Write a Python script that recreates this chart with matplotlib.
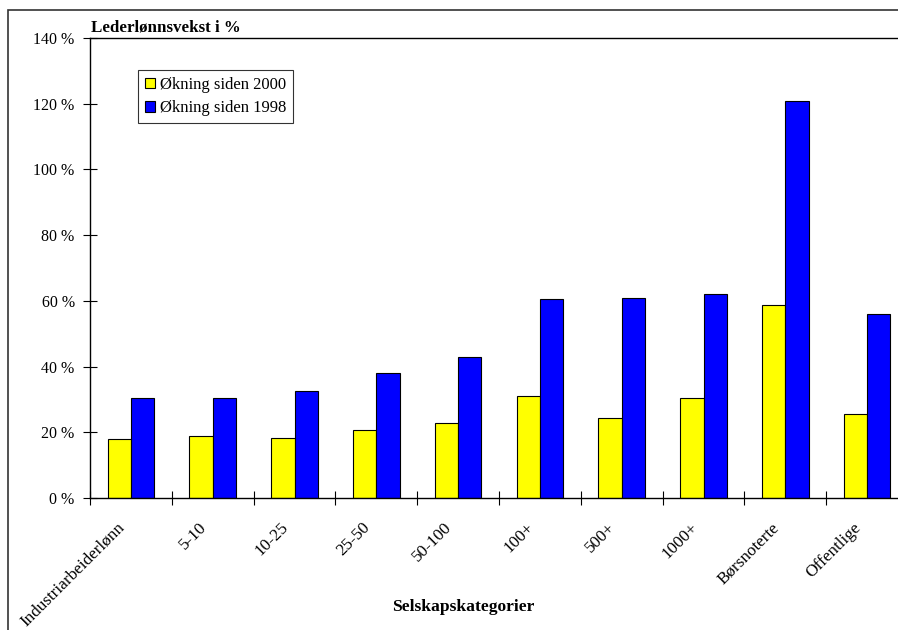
import matplotlib
matplotlib.use('Agg')
import matplotlib.pyplot as plt
import matplotlib.transforms as mtransforms
from matplotlib.patches import Rectangle
import numpy as np

plt.rcParams['font.family'] = ['Liberation Serif', 'DejaVu Serif']

# --- data ---
kategorier = ['Industriarbeiderlønn', '5-10', '10-25', '25-50', '50-100',
              '100+', '500+', '1000+', 'Børsnoterte', 'Offentlige']
okning_2000 = [17.9, 18.8, 18.4, 20.8, 22.8, 30.9, 24.4, 30.4, 58.8, 25.7]
okning_1998 = [30.4, 30.4, 32.6, 38.1, 43.0, 60.5, 60.8, 62.1, 120.9, 56.1]
y_ticks = [0, 20, 40, 60, 80, 100, 120, 140]

W, H = 898, 630
fig = plt.figure(figsize=(W / 100, H / 100), dpi=100)

# outer chart frame (runs off the right/bottom edge)
fig.patches.append(Rectangle((8 / W, -0.05), 1.0, 1 - 10 / H + 0.05,
                             transform=fig.transFigure, fill=False,
                             edgecolor='#333333', linewidth=1.2))

# plot area in pixels: left 90, right 908, top 38, bottom 498
ax = fig.add_axes([90 / W, 1 - 498 / H, 818 / W, 460 / H])

x = np.arange(len(kategorier)) + 0.5
bw = 0.285
ax.bar(x - bw / 2, okning_2000, bw, color='#FFFF00', edgecolor='black',
       linewidth=0.8, label='Økning siden 2000')
ax.bar(x + bw / 2, okning_1998, bw, color='#0000FF', edgecolor='black',
       linewidth=0.8, label='Økning siden 1998')

ax.set_xlim(0, len(kategorier))
ax.set_ylim(0, 140)
ax.set_yticks(y_ticks)
ax.set_yticklabels([f'{v} %' for v in y_ticks], fontsize=11.5)

# boundary ticks between categories, labels at category centres
ax.set_xticks(np.arange(len(kategorier) + 1))
ax.set_xticklabels([])
ax.set_xticks(x, minor=True)
ax.set_xticklabels(kategorier, minor=True, rotation=45, ha='right',
                   rotation_mode='anchor', fontsize=12.3)
ax.tick_params(axis='x', which='minor', length=0, pad=14)
ax.tick_params(axis='x', which='major', direction='inout', length=10, width=0.8)
ax.tick_params(axis='y', direction='inout', length=10, width=0.8, pad=6)

# nudge the slanted labels so their ends sit left of the centre
shift = mtransforms.ScaledTranslation(-14 / 100, -2 / 100, fig.dpi_scale_trans)
for lbl in ax.get_xticklabels(minor=True):
    lbl.set_transform(lbl.get_transform() + shift)

for s in ax.spines.values():
    s.set_linewidth(1.0)

leg = ax.legend(loc='upper left', bbox_to_anchor=(48 / 818, 1 - 32 / 460),
                fontsize=12, frameon=True, fancybox=False, edgecolor='black',
                handlelength=0.6, handleheight=0.6, handletextpad=0.3,
                borderpad=0.4, labelspacing=0.45, borderaxespad=0)
leg.get_frame().set_linewidth(0.8)

fig.text(91 / W, 1 - 32 / H, 'Lederlønnsvekst i %', fontsize=12.2,
         fontweight='bold', ha='left', va='baseline')
fig.text(463 / W, 1 - 607 / H, 'Selskapskategorier', fontsize=12.6,
         fontweight='bold', ha='center', va='center')

fig.savefig('out.png', dpi=100)
